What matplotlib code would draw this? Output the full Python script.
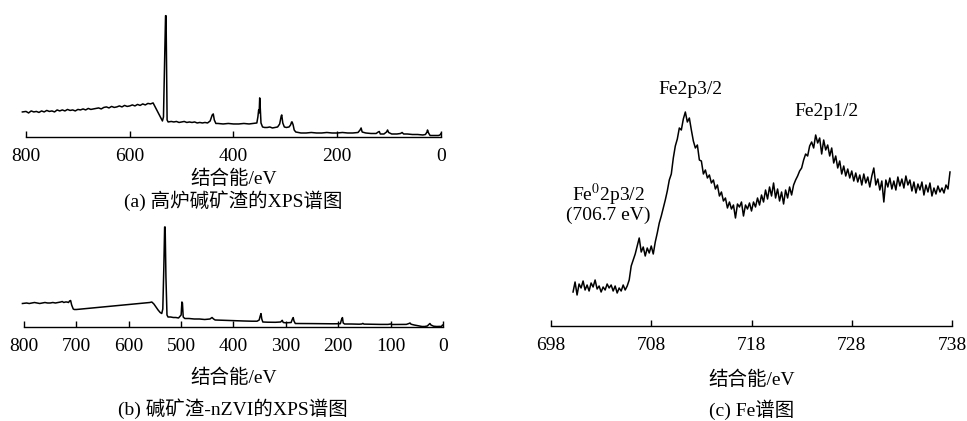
import matplotlib as mpl
mpl.use('Agg')
import matplotlib.pyplot as plt
import numpy as np

plt.rcParams['font.family'] = ['Liberation Serif', 'Noto Sans CJK SC']
plt.rcParams['mathtext.fontset'] = 'stix'
plt.rcParams['font.size'] = 14

# (a) survey spectrum of blast furnace alkali slag: binding energy (eV), intensity
slag_ev = [807, 800, 795, 790, 785, 780, 775, 770, 765, 760, 755, 750, 745, 740,
           735, 730, 725, 720, 715, 710, 705, 700, 695, 690, 685, 680, 675, 670,
           665, 660, 655, 650, 645, 640, 635, 630, 625, 620, 615, 610, 605, 600,
           595, 590, 585, 580, 575, 570, 565, 560, 555, 552, 548, 544, 540, 537,
           535, 533, 531, 530, 529, 528, 526, 520, 515, 510, 505, 500, 495, 490,
           485, 480, 475, 470, 465, 460, 455, 450, 445, 441, 439, 437, 434, 430,
           420, 410, 400, 390, 380, 370, 362, 355, 353, 351.5, 350.5, 349.5, 348.5,
           347, 344, 340, 335, 330, 325, 320, 315, 311, 308, 307, 305, 302, 298,
           293, 290, 288, 287, 285, 283, 280, 275, 270, 260, 250, 240, 230, 220,
           210, 200, 190, 180, 170, 160, 156, 154, 152, 145, 135, 125, 121, 119,
           117, 110, 105, 103, 101, 95, 85, 78, 75, 72, 65, 55, 45, 35, 30, 27, 26,
           24, 21, 15, 10, 5, 2, 0]
slag_int = [25, 25.5, 24, 26, 25, 25.5, 24.5, 26, 25, 26.5, 25.5, 26, 25, 27,
            26, 27, 26, 27.5, 26.5, 27, 26, 27.5, 27, 28, 27, 28.5, 27.5, 28,
            28.5, 29, 28, 29.5, 30, 29, 30.5, 29.5, 30, 31, 30, 31.5, 30.5, 31,
            32, 31, 32.5, 31.5, 33, 32, 33.5, 33, 34, 31, 27, 23, 19, 16,
            20, 70, 121, 121, 70, 17, 15, 15.5, 15, 15.5, 14.5, 15, 15.5, 14.5,
            15, 14.5, 15, 14, 14.5, 14, 14.5, 14, 16, 22, 23, 17, 13.5, 13.5,
            13, 13.5, 13, 13, 13.5, 13, 13.5, 14, 20, 27, 24, 39, 30,
            14, 10, 9.5, 9.5, 10, 9, 9.5, 10, 13, 21, 22, 14, 10, 9.5,
            10, 12, 15, 15, 12, 7, 5, 4.5, 4, 4, 4.5, 4, 4, 4.5,
            4, 4, 4.5, 4, 4, 4.5, 7, 9, 5, 4, 3.5, 3.5, 5, 5.5,
            3, 3, 5, 7, 4.5, 3, 3, 3.5, 4.5, 3, 3, 2.5, 2.5, 2, 2.5, 5, 7,
            4, 1.5, 1.5, 1.5, 1.5, 2, 3.5]

# (b) survey spectrum of alkali slag-nZVI
nzvi_ev = [803, 795, 790, 785, 780, 775, 770, 765, 760, 755, 750, 745, 740, 735,
           730, 727, 724, 721, 718, 715, 713, 711, 709, 706, 704, 700, 690, 680,
           670, 660, 650, 640, 630, 620, 610, 600, 590, 580, 570, 560, 556, 552,
           548, 544, 540, 537, 535, 533, 531.5, 530.5, 529, 527, 525, 520, 515,
           510, 505, 500, 498.5, 497.5, 496, 493, 485, 475, 465, 455, 445, 441,
           438, 435, 425, 410, 395, 380, 365, 355, 351, 349, 347.5, 346, 344, 335,
           320, 310, 307, 305, 300, 290, 287.5, 286, 284.5, 282, 270, 250, 230,
           210, 196, 194, 192, 190.5, 188, 175, 160, 155, 153, 151, 140, 120, 105,
           100, 97, 85, 70, 65, 63, 61, 55, 45, 40, 35, 30, 27, 25, 23, 18, 12, 6,
           3, 1, 0]
nzvi_int = [23.5, 24, 23.5, 24, 24.5, 24, 23.5, 24, 24.5, 24, 24, 24.5, 24, 24.5,
            25, 25.5, 24.5, 25, 25, 24.5, 26, 26.5, 22, 18, 17.5, 17.5, 18, 18.5,
            19, 19.5, 20, 20.5, 21, 21.5, 22, 22.5, 23, 23.5, 24, 24.5, 25, 23,
            20, 17, 14.5, 13.5, 18, 60, 100, 100, 50, 12, 10, 10, 9.5,
            9.5, 9, 12, 25, 24, 10, 8.5, 8.5, 8, 8, 7.5, 8, 9.5,
            8, 7, 6.8, 6.5, 6.2, 6, 5.8, 5.8, 7, 11, 13.4, 8, 5, 4.8,
            4.7, 5, 6.7, 4.5, 4.2, 4.5, 8, 9.4, 6, 3.5, 3.5, 3.4, 3.3,
            3.2, 3.3, 7, 9.4, 4, 3, 3, 2.8, 3, 3.6, 2.9, 2.8, 2.6, 2.6,
            3, 2.5, 2.5, 2.6, 3.5, 4, 2.8, 2, 1, 0.5, 0.5, 1, 2.5, 3.5, 2, 0.8, 0.5, 0.6,
            0.5, 2, 2]

# (c) Fe 2p high resolution spectrum, 700.2 - 737.8 eV, 0.2 eV step
fe_start, fe_stop = 700.2, 737.8
fe_int = [34, 44, 31, 42, 38, 45, 36, 41, 35, 43, 39, 46, 37, 40, 34, 39, 36, 42,
          38, 41, 35, 40, 33, 38, 35, 41, 36, 40,
          46, 60, 66, 72, 80, 88, 74, 79, 70, 78, 73, 80, 72, 84, 93, 103, 110, 118,
          126, 135, 146, 152, 168, 180, 187, 198, 196, 207, 214, 204, 208, 196, 185,
          178, 181, 166, 165, 152, 156, 148, 151, 143, 146, 137, 141, 130, 134, 125,
          128, 118, 124, 117, 121, 108, 122, 119, 124, 110, 121, 117, 123, 115, 124,
          119, 128, 121, 131, 124, 136, 127, 139, 130, 143, 128, 137, 125, 134, 122,
          136, 128, 139, 131, 141, 146, 150, 155, 158, 166, 172, 170, 180, 184, 178,
          191, 183, 188, 172, 186, 176, 181, 170, 178, 163, 170, 158, 165, 152, 160,
          150, 157, 148, 155, 145, 153, 144, 151, 141, 152, 143, 149, 139, 150, 158,
          141, 147, 136, 145, 124, 146, 139, 148, 137, 145, 136, 149, 140, 147, 138,
          150, 141, 146, 135, 144, 133, 142, 136, 144, 131, 141, 134, 143, 130, 138,
          132, 140, 134, 138, 133, 141, 137, 154]
fe_ev = np.linspace(fe_start, fe_stop, len(fe_int))

xlabel = '结合能/eV'


def style(ax, xlim, ticks, ylim, labelpad):
    ax.set_xlim(*xlim)
    ax.set_ylim(*ylim)
    ax.set_xticks(ticks)
    for s in ['left', 'right', 'top']:
        ax.spines[s].set_visible(False)
    ax.spines['bottom'].set_linewidth(1.0)
    ax.set_yticks([])
    ax.tick_params(axis='x', direction='in', length=4, width=1.0, pad=8, labelsize=14)
    ax.set_xlabel(xlabel, fontsize=14, labelpad=labelpad)


fig = plt.figure(figsize=(9.67, 4.21), dpi=100)

ax_a = fig.add_axes([26 / 967, 1 - 137 / 421, 415 / 967, 125.3 / 421])
ax_a.plot(slag_ev, slag_int, color='black', lw=1.1, clip_on=False)
style(ax_a, (800, 0), [800, 600, 400, 200, 0], (0, 125), 3.5)

ax_b = fig.add_axes([24 / 967, 1 - 327 / 421, 419 / 967, 104 / 421])
ax_b.plot(nzvi_ev, nzvi_int, color='black', lw=1.1, clip_on=False)
style(ax_b, (800, 0), [800, 700, 600, 500, 400, 300, 200, 100, 0], (0, 104), 10)

ax_c = fig.add_axes([551 / 967, 1 - 326 / 421, 401 / 967, 230 / 421])
ax_c.plot(fe_ev, fe_int, color='black', lw=1.1, clip_on=False)
style(ax_c, (698, 738), [698, 708, 718, 728, 738], (0, 230), 12)

ax_c.text(711.9, 236, 'Fe2p3/2', ha='center', va='center', fontsize=14)
ax_c.text(725.5, 214, 'Fe2p1/2', ha='center', va='center', fontsize=14)
ax_c.text(703.7, 131, 'Fe$^{0}$2p3/2', ha='center', va='center', fontsize=14)
ax_c.text(703.7, 111, '(706.7 eV)', ha='center', va='center', fontsize=14)

fig.text(233 / 967, 1 - 201 / 421, '(a) 高炉碱矿渣的XPS谱图', ha='center', va='center', fontsize=14)
fig.text(233 / 967, 1 - 409 / 421, '(b) 碱矿渣-nZVI的XPS谱图', ha='center', va='center', fontsize=14)
fig.text(752 / 967, 1 - 410 / 421, '(c) Fe谱图', ha='center', va='center', fontsize=14)

fig.savefig('out.png', dpi=100)
